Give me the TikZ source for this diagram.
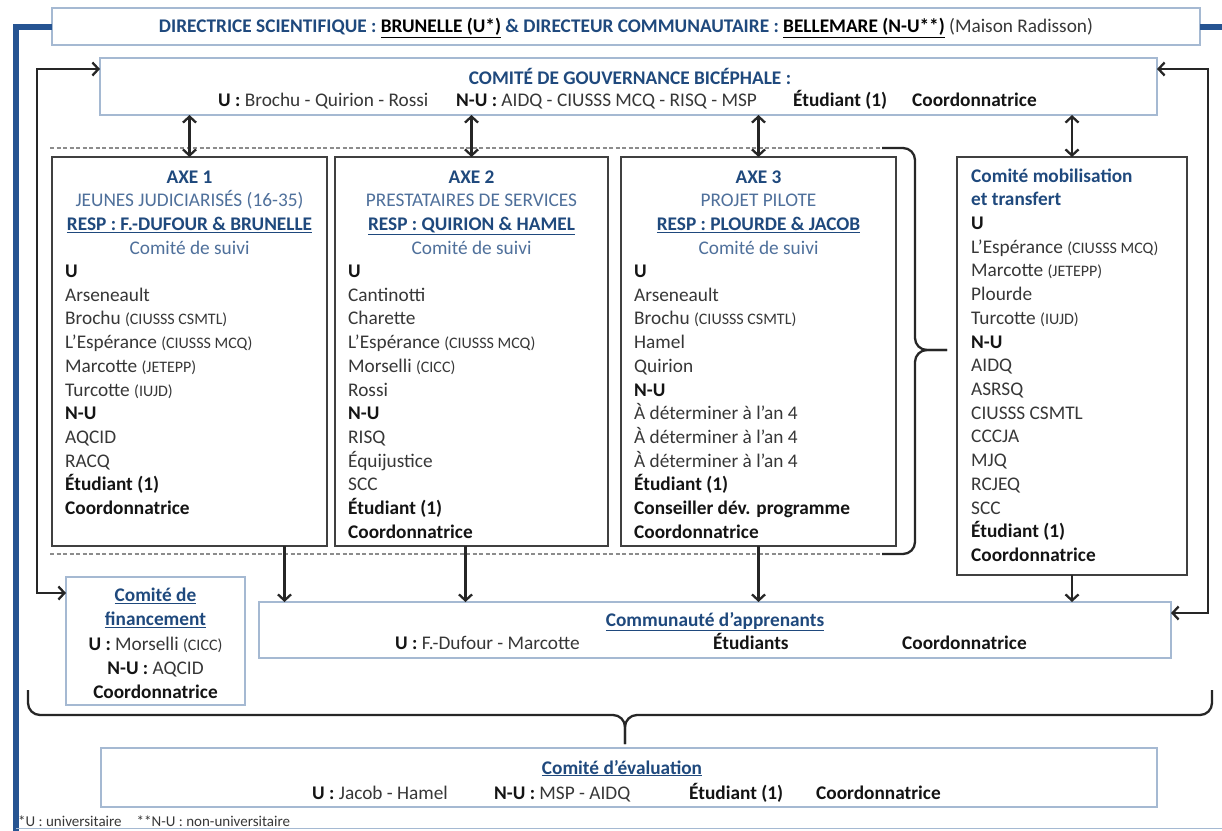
\documentclass[tikz,border=0pt]{standalone}
\usepackage{fontspec}
\setmainfont{Carlito}
\usetikzlibrary{arrows.meta,calc}
\definecolor{frameblue}{RGB}{38,84,146}
\definecolor{tblue}{RGB}{31,73,125}
\definecolor{lblue}{RGB}{79,112,155}
\definecolor{boxgrey}{RGB}{64,64,64}
\definecolor{lboxc}{RGB}{165,185,210}
\definecolor{txt}{RGB}{55,55,55}
\definecolor{dashc}{RGB}{140,140,140}
\newcommand\fsN{\fontsize{19.3}{23.7}\selectfont}
\newcommand\sml[1]{{\fontsize{16}{17}\selectfont #1}}
\newcommand\bk[1]{\textcolor{black!92}{\textbf{#1}}}
\newcommand\bt[1]{\textcolor{tblue}{\textbf{#1}}}
\newcommand\but[1]{\textcolor{tblue}{\textbf{\underline{#1}}}}
\tikzset{
  darkbox/.style={draw=boxgrey, line width=1.6pt, inner sep=0, outer sep=0, anchor=north west, fill=white},
  lightbox/.style={draw=lboxc, line width=1.5pt, inner sep=0, outer sep=0, anchor=north west, fill=white},
  arr/.style={draw=black!85, line width=2.3pt},
  dashl/.style={draw=dashc, line width=1.4pt, dash pattern=on 4pt off 2.5pt},
  bracel/.style={draw=black!85, line width=2.3pt, rounded corners=12pt},
  blk/.style={inner sep=0, align=left, anchor=north west},
  hdr/.style={inner sep=0, align=center, anchor=north},
  tl/.style={inner sep=0, anchor=base west},
  tc/.style={inner sep=0, anchor=base},
}
\begin{document}
\begin{tikzpicture}[x=1pt,y=-1pt,font=\fsN,text=txt,>={Straight Barb[length=6pt,width=13pt]}]
\useasboundingbox (0,0) rectangle (1222,830);
\fill[white] (0,0) rectangle (1222,830);

% boxes
\node[lightbox, minimum width=1148pt, minimum height=37pt] (top) at (52,8) {};
\node[lightbox, minimum width=1057pt, minimum height=57pt] (gov) at (100,58) {};
\node[darkbox, minimum width=275pt, minimum height=389pt] (axe1) at (52,157) {};
\node[darkbox, minimum width=273pt, minimum height=389pt] (axe2) at (335,157) {};
\node[darkbox, minimum width=275pt, minimum height=389pt] (axe3) at (621,157) {};
\node[darkbox, minimum width=230pt, minimum height=418pt] (mob) at (957,157) {};
\node[lightbox, minimum width=179pt, minimum height=128pt] (fin) at (66,577) {};
\node[lightbox, minimum width=912pt, minimum height=56pt] (comm) at (259,602) {};
\node[lightbox, minimum width=1056pt, minimum height=59pt] (eval) at (101,748) {};

% blue frame
\draw[frameblue, line width=6pt] (top.west) -- (16,26.5) -- (16,833);
\draw[frameblue, line width=6pt] (top.east) -- (1225,26.5);
\draw[lboxc, line width=1pt] (16,828.5) -- (1222,828.5);

% top text
\node[tc, text=tblue, font=\fsN\bfseries] (toptxt) at (626,32.5) {DIRECTRICE SCIENTIFIQUE : \textcolor{black}{\underline{BRUNELLE (U*)}} \& DIRECTEUR COMMUNAUTAIRE : \textcolor{black}{\underline{BELLEMARE (N-U**)}} \textcolor{txt}{\mdseries (Maison Radisson)}};

% governance
\node[tc] (govt) at (630,84) {\bt{COMITÉ DE GOUVERNANCE BICÉPHALE :}};
\node[tl] (gov1) at (218,106) {\bk{U :} Brochu - Quirion - Rossi};
\node[tl] (gov2) at (456,106) {\bk{N-U :} AIDQ - CIUSSS MCQ - RISQ - MSP};
\node[tl] (gov3) at (793,106) {\bk{Étudiant (1)}};
\node[tl] (gov4) at (912,106) {\bk{Coordonnatrice}};

% AXE 1
\node[hdr] (a1h) at (189.5,166.4) {\strut\bt{AXE 1}\\ \textcolor{lblue}{JEUNES JUDICIARISÉS (16-35)}\\ \but{RESP : F.-DUFOUR \& BRUNELLE}\\ \textcolor{lblue}{Comité de suivi}};
\node[blk] (a1l) at (65,260.8) {\strut\bk{U}\\ Arseneault\\ Brochu \sml{(CIUSSS CSMTL)}\\ L’Espérance \sml{(CIUSSS MCQ)}\\ Marcotte \sml{(JETEPP)}\\ Turcotte \sml{(IUJD)}\\ \bk{N-U}\\ AQCID\\ RACQ\\ \bk{Étudiant (1)}\\ \bk{Coordonnatrice}};

% AXE 2
\node[hdr] (a2h) at (471.5,166.4) {\strut\bt{AXE 2}\\ \textcolor{lblue}{PRESTATAIRES DE SERVICES}\\ \but{RESP : QUIRION \& HAMEL}\\ \textcolor{lblue}{Comité de suivi}};
\node[blk] (a2l) at (348,260.8) {\strut\bk{U}\\ Cantinotti\\ Charette\\ L’Espérance \sml{(CIUSSS MCQ)}\\ Morselli \sml{(CICC)}\\ Rossi\\ \bk{N-U}\\ RISQ\\ Équijustice\\ SCC\\ \bk{Étudiant (1)}\\ \bk{Coordonnatrice}};

% AXE 3
\node[hdr] (a3h) at (758.5,166.4) {\strut\bt{AXE 3}\\ \textcolor{lblue}{PROJET PILOTE}\\ \but{RESP : PLOURDE \& JACOB}\\ \textcolor{lblue}{Comité de suivi}};
\node[blk] (a3l) at (634,260.8) {\strut\bk{U}\\ Arseneault\\ Brochu \sml{(CIUSSS CSMTL)}\\ Hamel\\ Quirion\\ \bk{N-U}\\ À déterminer à l’an 4\\ À déterminer à l’an 4\\ À déterminer à l’an 4\\ \bk{Étudiant (1)}\\ \bk{Conseiller dév. programme}\\ \bk{Coordonnatrice}};

% mobilisation
\node[blk] (mobl) at (971,165.4) {\strut\bt{Comité mobilisation}\\ \bt{et transfert}\\ \bk{U}\\ L’Espérance \sml{(CIUSSS MCQ)}\\ Marcotte \sml{(JETEPP)}\\ Plourde\\ Turcotte \sml{(IUJD)}\\ \bk{N-U}\\ AIDQ\\ ASRSQ\\ CIUSSS CSMTL\\ CCCJA\\ MJQ\\ RCJEQ\\ SCC\\ \bk{Étudiant (1)}\\ \bk{Coordonnatrice}};

% financement
\node[hdr, font=\fontsize{19.3}{24.3}\selectfont] (finl) at (155.5,584.4) {\strut\but{Comité de}\\ \but{financement}\\ \bk{U :} Morselli \sml{(CICC)}\\ \bk{N-U :} AQCID\\ \bk{Coordonnatrice}};

% communaute
\node[tc] (commt) at (715,626) {\but{Communauté d’apprenants}};
\node[tl] (comm1) at (395,649) {\bk{U :} F.-Dufour - Marcotte};
\node[tl] (comm2) at (713,649) {\bk{Étudiants}};
\node[tl] (comm3) at (902,649) {\bk{Coordonnatrice}};

% evaluation
\node[tc] (evalt) at (622,774) {\but{Comité d’évaluation}};
\node[tl] (eval1) at (312,799) {\bk{U :} Jacob - Hamel};
\node[tl] (eval2) at (494,799) {\bk{N-U :} MSP - AIDQ};
\node[tl] (eval3) at (689,799) {\bk{Étudiant (1)}};
\node[tl] (eval4) at (816,799) {\bk{Coordonnatrice}};

% footnote
\node[tl, font=\fontsize{15}{17}\selectfont] (foot) at (18,826.5) {*U : universitaire\quad **N-U : non-universitaire};

% dashed lines and braces
\draw[dashl] (50,148) -- (884,148);
\draw[dashl] (50,554) -- (884,554);
\draw[bracel] (882,148) -- (915,148) -- (915,350) -- (947,350);
\draw[bracel] (882,554) -- (915,554) -- (915,350) -- (947,350);
\draw[bracel] (28,690) -- (28,715) -- (625,715) -- (625,744);
\draw[bracel] (1212,690) -- (1212,715) -- (625,715) -- (625,744);

% double arrows
\draw[arr,<->] (axe1.north |- gov.south) -- (axe1.north);
\draw[arr,<->] (axe2.north |- gov.south) -- (axe2.north);
\draw[arr,<->] (axe3.north |- gov.south) -- (axe3.north);
\draw[arr,<->] (mob.north |- gov.south) -- (mob.north);

% down arrows
\coordinate (a1d) at ($(axe1.south)+(95,0)$);
\coordinate (a2d) at ($(axe2.south)+(-6,0)$);
\draw[arr,->] (a1d) -- (a1d |- comm.north);
\draw[arr,->] (a2d) -- (a2d |- comm.north);
\draw[arr,->] (axe3.south) -- (axe3.south |- comm.north);
\draw[arr,->] (mob.south) -- (mob.south |- comm.north);

% side connectors
\draw[arr,<->] ($(fin.north west)+(0,16)$) -- ++(-29,0) |- ($(gov.north west)+(0,11)$);
\draw[arr,<->] ($(gov.north east)+(0,11)$) -- ++(51,0) |- ($(comm.north east)+(0,11)$);
\end{tikzpicture}
\end{document}
